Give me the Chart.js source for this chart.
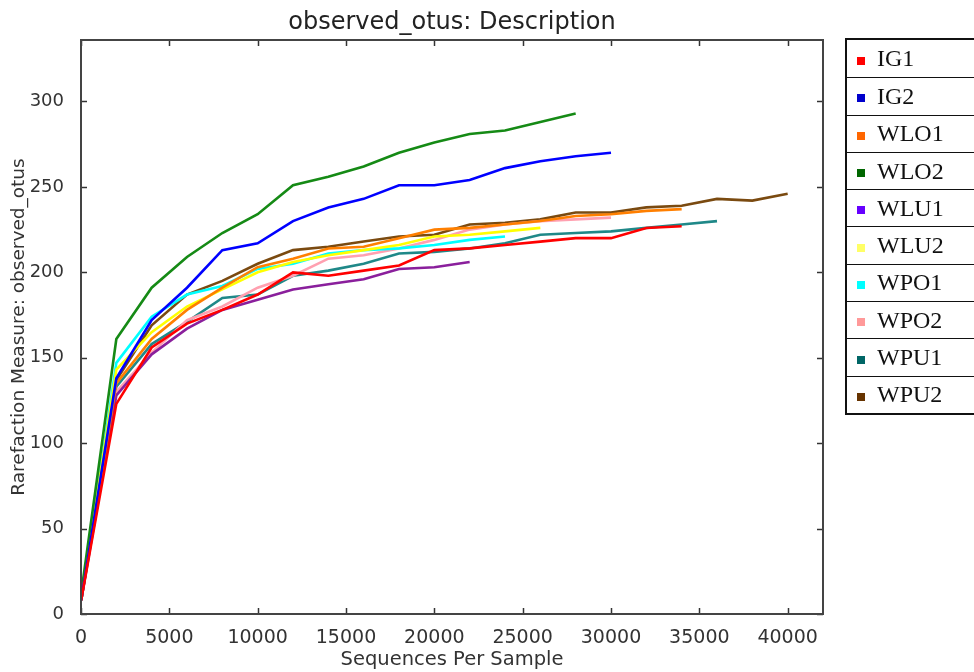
<!DOCTYPE html>
<html>
<head>
<meta charset="utf-8">
<script src="https://cdn.jsdelivr.net/npm/chart.js@4.4.0/dist/chart.umd.min.js"></script>
<style>
  html, body { margin:0; padding:0; background:#fff; }
  #wrap { position:relative; width:974px; height:672px; overflow:hidden; }
  #c { position:absolute; left:0; top:0; }
  #title { position:absolute; left:252px; width:400px; top:6px; text-align:center; font-family:'DejaVu Sans',sans-serif; font-size:24px; color:#222; line-height:30px; }
  #legend { position:absolute; left:845px; top:38px; width:140px; border:2px solid #111; border-right:none; box-sizing:border-box; font-family:"Liberation Serif","Times New Roman",serif; font-size:24px; color:#111; }
  #legend .row { height:37.3px; border-top:1.5px solid #111; box-sizing:border-box; display:flex; align-items:center; }
  #legend .row:first-child { border-top:none; }
  #legend .sw { width:8px; height:8px; margin-left:10px; margin-right:12px; margin-top:4px; }
</style>
</head>
<body>
<div id="wrap">
  <canvas id="c" width="974" height="672"></canvas>
  <div id="title">observed_otus: Description</div>
  <div id="legend"></div>
</div>
<script>
const depths = [10,2000,4000,6000,8000,10000,12000,14000,16000,18000,20000,22000,24000,26000,28000,30000,32000,34000,36000,38000,40000];
const seriesNames = ["IG1","IG2","WLO1","WLO2","WLU1","WLU2","WPO1","WPO2","WPU1","WPU2"];
const IG1  = [8,123,156,170,178,187,200,198,201,204,213,214,216,218,220,220,226,227];
const IG2  = [8,138,172,191,213,217,230,238,243,251,251,254,261,265,268,270];
const WLO1 = [8,135,161,178,191,203,208,214,215,220,225,226,228,230,233,234,236,237];
const WLO2 = [12,161,191,209,223,234,251,256,262,270,276,281,283,288,293];
const WLU1 = [8,128,152,167,178,184,190,193,196,202,203,206];
const WLU2 = [8,143,165,180,190,200,206,210,213,216,221,222,224,226];
const WPO1 = [8,147,174,187,192,202,205,211,213,214,216,219,221];
const WPO2 = [8,130,153,172,180,191,198,208,210,214,219,225,228,230,231,232];
const WPU1 = [8,133,158,171,185,187,198,201,205,211,212,214,217,222,223,224,226,228,230];
const WPU2 = [8,137,169,187,195,205,213,215,218,221,222,228,229,231,235,235,238,239,243,242,246];
const seriesValues = [IG1,IG2,WLO1,WLO2,WLU1,WLU2,WPO1,WPO2,WPU1,WPU2];
const lineColors = ["#ff0000","#0000ff","#ff7f00","#158a15","#8a1f9c","#ffff00","#00ffff","#ffa0b0","#1f8888","#7a4a10"];
const legendColors = ["#ff0000","#0000cc","#ff6600","#006600","#6600ff","#ffff66","#00ffff","#ff9999","#006666","#663300"];
const xTicks = [0,5000,10000,15000,20000,25000,30000,35000,40000];
const yTicks = [0,50,100,150,200,250,300];

const datasets = seriesNames.map((n,i)=>({
  label:n,
  data: seriesValues[i].map((v,j)=>({x:depths[j], y:v})),
  borderColor: lineColors[i],
  backgroundColor: lineColors[i],
  borderWidth: 2.6,
  pointRadius: 0,
  tension: 0,
  fill: false
}));

// HTML legend
const lg = document.getElementById('legend');
seriesNames.forEach((n,i)=>{
  const r = document.createElement('div'); r.className='row';
  const s = document.createElement('span'); s.className='sw'; s.style.background = legendColors[i];
  const t = document.createElement('span'); t.textContent = n;
  r.appendChild(s); r.appendChild(t); lg.appendChild(r);
});

const frame = {
  id:'frame',
  afterDraw(chart){
    const {ctx, chartArea:a, scales} = chart;
    ctx.save();
    ctx.strokeStyle = '#333';
    ctx.lineWidth = 1.5;
    const L = 6;
    scales.x.ticks.forEach((t,i)=>{
      const px = Math.round(scales.x.getPixelForValue(t.value))+0.5;
      ctx.beginPath(); ctx.moveTo(px,a.bottom); ctx.lineTo(px,a.bottom-L); ctx.stroke();
      ctx.beginPath(); ctx.moveTo(px,a.top); ctx.lineTo(px,a.top+L); ctx.stroke();
    });
    scales.y.ticks.forEach((t,i)=>{
      const py = Math.round(scales.y.getPixelForValue(t.value))+0.5;
      ctx.beginPath(); ctx.moveTo(a.left,py); ctx.lineTo(a.left+L,py); ctx.stroke();
      ctx.beginPath(); ctx.moveTo(a.right,py); ctx.lineTo(a.right-L,py); ctx.stroke();
    });
    ctx.lineWidth = 2;
    ctx.strokeStyle = '#444';
    ctx.strokeRect(a.left, a.top, a.right-a.left, a.bottom-a.top);
    ctx.restore();
  }
};

Chart.defaults.font.family = "'DejaVu Sans', sans-serif";
new Chart(document.getElementById('c'), {
  type:'line',
  data:{datasets},
  options:{
    responsive:false,
    animation:false,
    layout:{padding:{left:0,right:151,top:40,bottom:0}},
    plugins:{
      legend:{display:false},
      tooltip:{enabled:false},
      title:{display:false}
    },
    scales:{
      x:{type:'linear', min:0, max:42000,
         afterBuildTicks(s){ s.ticks = xTicks.map(v=>({value:v})); },
         afterFit(s){ s.height = 58; },
         grid:{display:false}, border:{display:false},
         ticks:{color:'#333', font:{size:19}, padding:5, maxRotation:0, autoSkip:false,
                callback:(v)=>String(v)},
         title:{display:true, text:'Sequences Per Sample', color:'#333', font:{size:19.5}, padding:{top:1,bottom:0}}
      },
      y:{type:'linear', min:0, max:336,
         afterBuildTicks(s){ s.ticks = yTicks.map(v=>({value:v})); },
         afterFit(s){ s.width = 81; },
         grid:{display:false}, border:{display:false},
         ticks:{color:'#333', font:{size:18}, padding:9, autoSkip:false,
                callback:(v)=>String(v)},
         title:{display:true, text:'Rarefaction Measure: observed_otus', color:'#333', font:{size:18.5}, padding:{top:8,bottom:0}}
      }
    }
  },
  plugins:[frame]
});
</script>
</body>
</html>
